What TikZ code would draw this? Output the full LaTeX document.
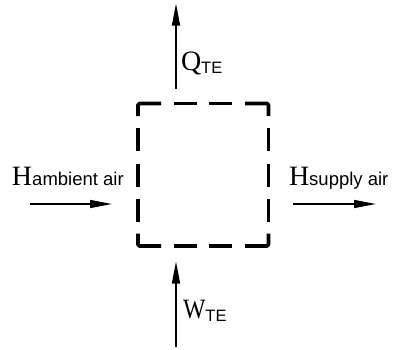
\documentclass[tikz,border=0pt]{standalone}
\usepackage{fontspec}
\setmainfont{Liberation Serif}
\newfontfamily\labsans{Liberation Sans}
\newfontfamily\serifW[FakeStretch=0.85]{Liberation Serif}
\usetikzlibrary{arrows.meta}
\tikzset{
  flow/.style={line width=1.4pt, -{Triangle[length=22pt,width=8pt]}},
  cvline/.style={line width=3.8pt, line cap=butt, line join=round, rounded corners=1.5pt},
  lab/.style={anchor=base west, inner sep=0pt, outer sep=0pt}
}
\newcommand{\bigS}[1]{{\fontsize{28}{28}\selectfont #1}}
\newcommand{\subS}[1]{{\labsans\fontsize{18.5}{18.5}\selectfont #1}}
\newcommand{\teS}{\raisebox{-3pt}{\labsans\fontsize{16.5}{16.5}\selectfont TE}}
\begin{document}
\begin{tikzpicture}[x=1pt,y=-1pt]
\useasboundingbox (0,0) rectangle (398,349);
% control volume (dashed square)
\draw[cvline] (138,116) -- (138,103.5) -- (161,103.5);
\draw[cvline] (174,103.5) -- (197,103.5);
\draw[cvline] (209,103.5) -- (232,103.5);
\draw[cvline] (245,103.5) -- (268.5,103.5) -- (268.5,116);
\draw[cvline] (268.5,128) -- (268.5,151);
\draw[cvline] (268.5,164) -- (268.5,187);
\draw[cvline] (268.5,199) -- (268.5,222);
\draw[cvline] (268.5,233.5) -- (268.5,246) -- (245,246);
\draw[cvline] (232,246) -- (209,246);
\draw[cvline] (197,246) -- (174,246);
\draw[cvline] (161,246) -- (138,246) -- (138,233.5);
\draw[cvline] (138,222) -- (138,199);
\draw[cvline] (138,187) -- (138,164);
\draw[cvline] (138,151) -- (138,128);
% arrows
\coordinate (qs) at (176,89);
\coordinate (qe) at (176,3.5);
\coordinate (ws) at (176,347);
\coordinate (we) at (176,261.5);
\coordinate (as) at (30,204);
\coordinate (ae) at (112,204);
\coordinate (ss) at (293,204);
\coordinate (se) at (376,204);
\draw[flow] (qs) -- (qe);
\draw[flow] (ws) -- (we);
\draw[flow] (as) -- (ae);
\draw[flow] (ss) -- (se);
% labels
\node[lab] (qlab) at (181,70.5) {\bigS{Q}\teS};
\node[lab] (wlab) at (183,318) {\bigS{\serifW W}\teS};
\node[lab] (hin) at (12,185) {\bigS{H}\subS{ambient air}};
\node[lab] (hout) at (289,185) {\bigS{H}\subS{supply air}};
\end{tikzpicture}
\end{document}
